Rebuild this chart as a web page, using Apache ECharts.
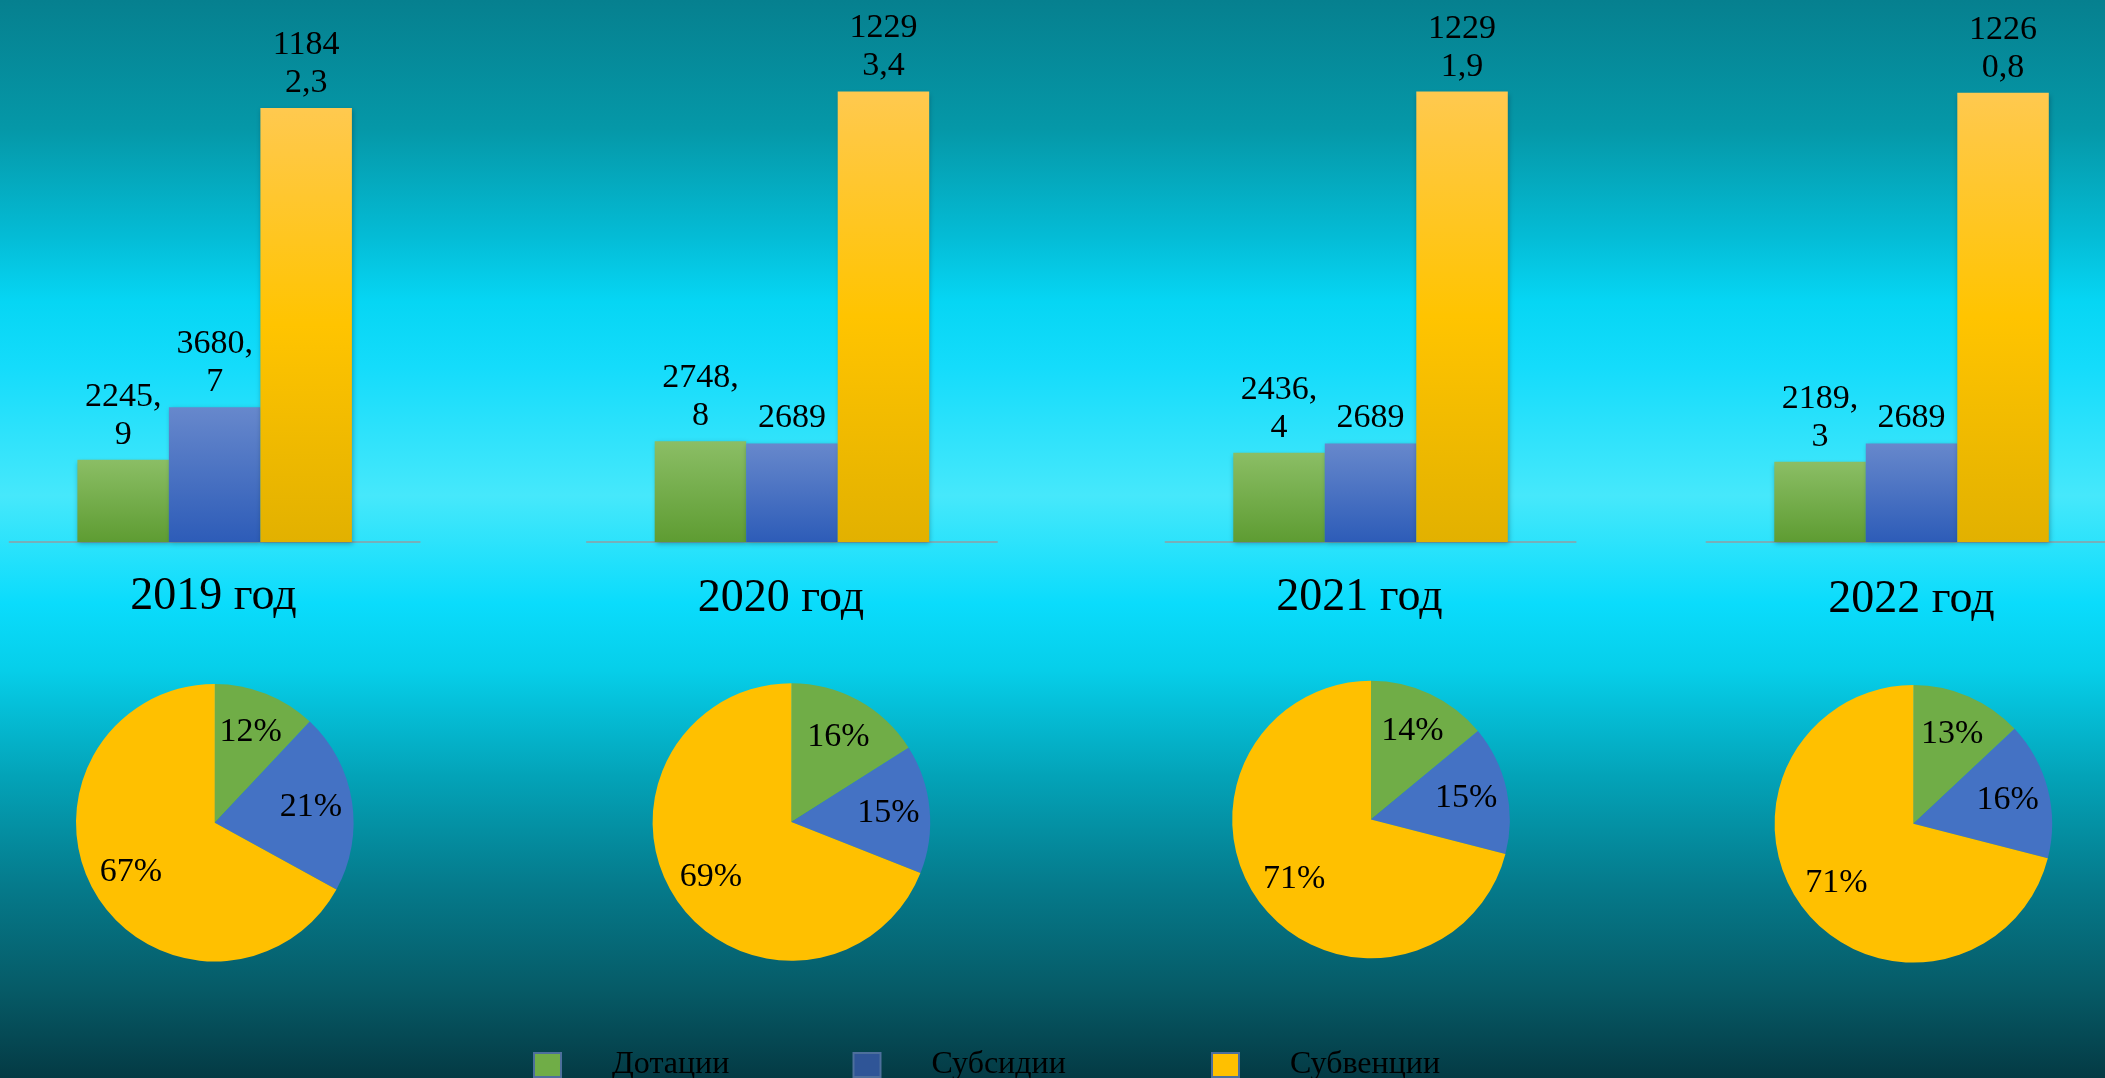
<!DOCTYPE html>
<html>
<head>
<meta charset="utf-8">
<script src="https://cdn.jsdelivr.net/npm/echarts@6/dist/echarts.min.js"></script>
<style>
html,body{margin:0;padding:0;width:100%;height:100%;overflow:hidden;}
#c{width:2105px;height:1078px;}
</style>
</head>
<body>
<div id="c"></div>
<script>
// ---- data ----
const years = ['2019 год', '2020 год', '2021 год', '2022 год'];
const seriesNames = ['Дотации', 'Субсидии', 'Субвенции'];
const dotacii = [2245.9, 2748.8, 2436.4, 2189.3];
const subsidii = [3680.7, 2689, 2689, 2689];
const subvencii = [11842.3, 12293.4, 12291.9, 12260.8];
const dotaciiPct = [12, 16, 14, 13];
const subsidiiPct = [21, 15, 15, 16];
const subvenciiPct = [67, 69, 71, 71];

// ---- layout / style ----
const FONT = 'Liberation Serif';
const gridLefts = [9.4, 586.7, 1165.3, 1706.3];
const gridW = 410.5;
const yearPos = [[213.5, 597], [781, 599], [1359.5, 598], [1911.5, 600]];
const pieCenters = [[214.8, 822.7], [791.4, 822], [1371, 819.5], [1913.4, 823.8]];
const pieR = 138.8;
const flatColors = ['#70ad47', '#4472c4', '#ffc000'];
const legendColors = ['#70ad47', '#2f5597', '#ffc000'];
const legendLefts = [528, 847.5, 1206];

function grad(stops) {
  return { type: 'linear', x: 0, y: 0, x2: 0, y2: 1,
    colorStops: stops.map(s => ({ offset: s[0], color: s[1] })) };
}
const barGrads = [
  grad([[0, '#8bbe65'], [1, '#5e9c32']]),
  grad([[0, '#6788cc'], [1, '#2d5cb8']]),
  grad([[0, '#ffc94f'], [0.5, '#ffc400'], [1, '#e2b100']])
];

function fmtBar(v) {
  const s = String(v).replace('.', ',');
  if (s.length <= 4) return s;
  if (s[4] === ',') return s.slice(0, 5) + '\n' + s.slice(5);
  return s.slice(0, 4) + '\n' + s.slice(4);
}

const barValues = [dotacii, subsidii, subvencii];
const pctValues = [dotaciiPct, subsidiiPct, subvenciiPct];

const grids = [], xAxes = [], yAxes = [], series = [], graphics = [];
for (let i = 0; i < 4; i++) {
  grids.push({ left: gridLefts[i], top: 29, width: gridW, height: 513,
    containLabel: false, outerBoundsMode: 'none' });
  xAxes.push({ type: 'category', gridIndex: i, data: [years[i]],
    axisLine: { show: true, lineStyle: { color: '#8e9ea4', width: 1.5 } },
    axisTick: { show: false }, axisLabel: { show: false }, splitLine: { show: false } });
  yAxes.push({ type: 'value', gridIndex: i, min: 0, max: 14000, show: false, splitLine: { show: false } });
  for (let k = 0; k < 3; k++) {
    series.push({
      type: 'bar', name: seriesNames[k], xAxisIndex: i, yAxisIndex: i,
      data: [barValues[k][i]], barGap: '0%', barWidth: 91.5,
      itemStyle: { color: barGrads[k], shadowColor: 'rgba(0,40,60,0.35)', shadowBlur: 5, shadowOffsetX: 1, shadowOffsetY: 2 },
      label: { show: true, position: 'top', distance: 6, color: '#000',
        fontFamily: FONT, fontSize: 34, lineHeight: 38,
        formatter: p => fmtBar(p.value) },
      emphasis: { disabled: true }, silent: true, animation: false
    });
  }
  const pieData = seriesNames.map((n, k) => ({ name: n, value: pctValues[k][i], itemStyle: { color: flatColors[k] } }));
  series.push({
    type: 'pie', center: pieCenters[i], radius: [0, pieR], startAngle: 90, clockwise: true,
    data: pieData, label: { show: false }, labelLine: { show: false },
    emphasis: { disabled: true }, silent: true, animation: false
  });
  series.push({
    type: 'pie', center: pieCenters[i], radius: [pieR * 0.36, pieR], startAngle: 90, clockwise: true,
    data: seriesNames.map((n, k) => ({ name: n, value: pctValues[k][i], itemStyle: { color: 'rgba(0,0,0,0)' } })),
    label: { show: true, position: 'inside', color: '#000', fontFamily: FONT, fontSize: 34, formatter: '{c}%' },
    labelLine: { show: false }, emphasis: { disabled: true }, silent: true, animation: false, z: 3
  });
  graphics.push({
    type: 'text', x: yearPos[i][0], y: yearPos[i][1], silent: true,
    style: { text: years[i], fill: '#000', font: '46px "' + FONT + '"',
      align: 'center', verticalAlign: 'middle', textAlign: 'center', textVerticalAlign: 'middle' }
  });
}

const legends = seriesNames.map((n, k) => ({
  left: legendLefts[k], top: 1044, orient: 'horizontal', icon: 'rect',
  itemWidth: 27, itemHeight: 24, selectedMode: false,
  data: [{ name: n, itemStyle: { color: legendColors[k], borderColor: '#4d6f9c', borderWidth: 2 } }],
  textStyle: { color: '#000', fontFamily: FONT, fontSize: 32, padding: [0, 0, 0, 46] }
}));

const chart = echarts.init(document.getElementById('c'), null, { renderer: 'canvas' });
chart.setOption({
  animation: false,
  backgroundColor: grad([
    [0, '#06808f'], [0.12, '#0598a8'], [0.22, '#04bcd6'], [0.28, '#06d6f4'],
    [0.34, '#14dcfb'], [0.46, '#46e8fb'], [0.56, '#0adcfc'], [0.62, '#06cfea'],
    [0.72, '#03a3b8'], [0.82, '#057b8c'], [0.92, '#065a66'], [1, '#043a44']
  ]),
  grid: grids, xAxis: xAxes, yAxis: yAxes, series: series,
  legend: legends, graphic: graphics
});
</script>
</body>
</html>
